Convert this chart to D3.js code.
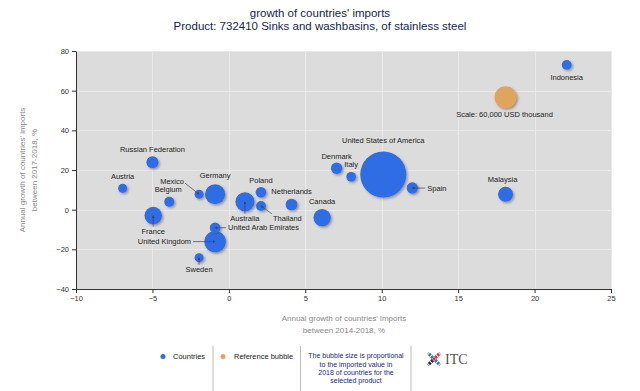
<!DOCTYPE html>
<html><head><meta charset="utf-8">
<script src="https://cdn.jsdelivr.net/npm/d3@7"></script>
<style>
html,body{margin:0;padding:0;background:#fff;}
svg{display:block;font-family:"Liberation Sans",Arial,sans-serif;}
</style></head>
<body><svg id="c" width="640" height="391"></svg>
<script>
// ---------- data ----------
const countries = ["Indonesia","United States of America","Spain","Malaysia","Denmark","Italy","Canada","Netherlands","Poland","Thailand","Australia","Germany","Mexico","Belgium","Austria","Russian Federation","France","United Arab Emirates","United Kingdom","Sweden"];
const growth2014_2018 = [22.1, 10.1, 12.0, 18.1, 7.05, 8.0, 6.1, 4.1, 2.1, 2.1, 1.05, -0.9, -1.95, -3.9, -6.95, -5.0, -4.95, -0.9, -0.9, -1.95];
const growth2017_2018 = [73, 17.7, 10.9, 7.8, 20.9, 16.6, -4.0, 2.6, 8.8, 1.9, 4.0, 7.8, 7.8, 4.0, 10.8, 23.9, -3.0, -9.1, -16.1, -24.2];
const imports2018 = [12000, 262000, 16000, 28000, 16000, 11500, 37000, 17000, 14000, 12000, 45000, 50000, 10000, 12400, 10000, 18000, 38000, 14000, 57000, 10000];
const referenceBubble = {label: "Scale: 60,000 USD thousand", x: 18.1, y: 56.7, value: 60000};
const xTicks = [-10, -5, 0, 5, 10, 15, 20, 25];
const yTicks = [-40, -20, 0, 20, 40, 60, 80];
const titleLines = ["growth of countries' imports", "Product: 732410 Sinks and washbasins, of stainless steel"];
const xTitle = ["Annual growth of countries' imports", "between 2014-2018, %"];
const yTitle = ["Annual growth of countries' imports", "between 2017-2018, %"];
const legendItems = ["Countries", "Reference bubble"];
const legendNote = ["The bubble size is proportional", "to the imported value in", "2018 of countries for the", "selected product"];

// label layout (pixel offsets from bubble centre; leader start offsets)
const labelLayout = {
  "Indonesia": {dx:0, dy:12, a:"middle"},
  "United States of America": {dx:0, dy:-34, a:"middle"},
  "Spain": {dx:15, dy:0, a:"start", l:[13,0]},
  "Malaysia": {dx:-3, dy:-15, a:"middle"},
  "Denmark": {dx:0, dy:-12, a:"middle"},
  "Italy": {dx:0, dy:-12, a:"middle"},
  "Canada": {dx:0, dy:-16, a:"middle"},
  "Netherlands": {dx:0, dy:-13, a:"middle"},
  "Poland": {dx:0, dy:-12, a:"middle"},
  "Thailand": {dx:12, dy:12, a:"start", l:[11,8]},
  "Australia": {dx:0, dy:17, a:"middle", l:[0,12]},
  "Germany": {dx:0, dy:-19, a:"middle"},
  "Mexico": {dx:-27, dy:-13, a:"middle", l:[-14,-11]},
  "Belgium": {dx:-1, dy:-12, a:"middle"},
  "Austria": {dx:0, dy:-12, a:"middle"},
  "Russian Federation": {dx:0, dy:-13, a:"middle"},
  "France": {dx:0, dy:16, a:"middle", l:[0,11]},
  "United Arab Emirates": {dx:13, dy:0, a:"start", l:[11,0]},
  "United Kingdom": {dx:-24, dy:0, a:"end", l:[-22,0]},
  "Sweden": {dx:0, dy:12, a:"middle", l:[0,7]}
};

const svg = d3.select("#c");
const defs = svg.append("defs");
const f = defs.append("filter").attr("id","sh").attr("x","-50%").attr("y","-50%").attr("width","200%").attr("height","200%");
f.append("feDropShadow").attr("dx",1.5).attr("dy",1.5).attr("stdDeviation",0.9).attr("flood-color","#555").attr("flood-opacity",0.55);
defs.append("marker").attr("id","arr").attr("viewBox","0 0 6 6").attr("refX",5).attr("refY",3)
  .attr("markerWidth",4).attr("markerHeight",4).attr("orient","auto")
  .append("path").attr("d","M0,0L6,3L0,6Z").attr("fill","#444");

const x = d3.scaleLinear().domain([-10,25]).range([76,611]);
const y = d3.scaleLinear().domain([-40,80]).range([289,51]);
const r = d3.scaleSqrt().domain([0,60000]).range([0,11]);

// title
svg.append("g").selectAll("text").data(titleLines).join("text")
  .attr("x",320).attr("y",(d,i)=>17+i*13).attr("text-anchor","middle")
  .attr("font-size","11.5px").attr("fill","#16244a").text(d=>d);

// plot background
svg.append("rect").attr("x",x(-10)).attr("y",y(80)).attr("width",x(25)-x(-10)).attr("height",y(-40)-y(80)).attr("fill","#dcdcdc");
// grid
const grid = svg.append("g").attr("stroke","#e9e9e9").attr("stroke-width",1);
grid.selectAll(".gx").data(xTicks.slice(1)).join("line").attr("x1",d=>Math.round(x(d))+0.5).attr("x2",d=>Math.round(x(d))+0.5).attr("y1",y(80)).attr("y2",y(-40));
grid.selectAll(".gy").data(yTicks.slice(1)).join("line").attr("y1",d=>Math.round(y(d))+0.5).attr("y2",d=>Math.round(y(d))+0.5).attr("x1",x(-10)).attr("x2",x(25));

// axes
const gy = svg.append("g").attr("transform",`translate(${x(-10)},0)`).call(d3.axisLeft(y).tickValues(yTicks).tickSize(4).tickSizeOuter(0).tickPadding(3));
const gx = svg.append("g").attr("transform",`translate(0,${y(-40)})`).call(d3.axisBottom(x).tickValues(xTicks).tickSize(4).tickSizeOuter(0).tickPadding(3));
[gx,gy].forEach(g=>{
  g.selectAll("path,line").attr("stroke","#333");
  g.selectAll("text").attr("font-size","7.5px").attr("fill","#333").attr("font-family","Liberation Sans, Arial, sans-serif");
});

// axis titles
svg.append("g").selectAll("text").data(xTitle).join("text")
  .attr("x",344).attr("y",(d,i)=>321+i*12).attr("text-anchor","middle")
  .attr("font-size","8px").attr("fill","#8a8a8a").text(d=>d);
svg.append("g").selectAll("text").data(yTitle).join("text")
  .attr("transform",(d,i)=>`translate(${25+i*12},170) rotate(-90)`).attr("text-anchor","middle")
  .attr("font-size","8px").attr("fill","#8a8a8a").text(d=>d);

// data
const data = countries.map((c,i)=>({name:c, gx:growth2014_2018[i], gy:growth2017_2018[i], v:imports2018[i]}));

// bubbles (largest first)
const bg = svg.append("g");
bg.selectAll("circle.c").data(data.slice().sort((a,b)=>b.v-a.v)).join("circle")
  .attr("cx",d=>x(d.gx)).attr("cy",d=>y(d.gy)).attr("r",d=>r(d.v))
  .attr("fill","#2d6de4").attr("filter","url(#sh)");
bg.append("circle").attr("cx",x(referenceBubble.x)).attr("cy",y(referenceBubble.y)).attr("r",r(referenceBubble.value))
  .attr("fill","#e0a55c").attr("filter","url(#sh)");

// leaders
data.forEach(d=>{
  const L = labelLayout[d.name];
  if(L && L.l){
    const cx=x(d.gx), cy=y(d.gy);
    svg.append("line").attr("x1",cx+L.l[0]).attr("y1",cy+L.l[1]).attr("x2",cx).attr("y2",cy)
      .attr("stroke","#444").attr("stroke-width",0.7).attr("marker-end","url(#arr)");
  }
});

// labels
svg.append("g").selectAll("text").data(data).join("text")
  .attr("x",d=>x(d.gx)+labelLayout[d.name].dx).attr("y",d=>y(d.gy)+labelLayout[d.name].dy)
  .attr("dy","0.35em").attr("text-anchor",d=>labelLayout[d.name].a)
  .attr("font-size","7.5px").attr("fill","#222").text(d=>d.name);
svg.append("text").attr("x",x(referenceBubble.x)-1).attr("y",y(referenceBubble.y)+17).attr("dy","0.35em")
  .attr("text-anchor","middle").attr("font-size","7.5px").attr("fill","#222").text(referenceBubble.label);

// legend
const leg = svg.append("g");
leg.append("circle").attr("cx",163).attr("cy",356.5).attr("r",2.5).attr("fill","#2d6de4");
leg.append("text").attr("x",173).attr("y",356.5).attr("dy","0.35em").attr("font-size","7.5px").attr("fill","#222").text(legendItems[0]);
leg.append("circle").attr("cx",223).attr("cy",356.5).attr("r",2.5).attr("fill","#e0a55c");
leg.append("text").attr("x",234).attr("y",356.5).attr("dy","0.35em").attr("font-size","7.5px").attr("fill","#222").text(legendItems[1]);
[213,300.5,411].forEach(px=>leg.append("line").attr("x1",px).attr("x2",px).attr("y1",346).attr("y2",391).attr("stroke","#bbb").attr("stroke-width",1));
leg.selectAll("text.n").data(legendNote).join("text").attr("class","n")
  .attr("x",356).attr("y",(d,i)=>356+i*8.3).attr("dy","0.35em").attr("text-anchor","middle")
  .attr("font-size","7px").attr("fill","#1a2a70").text(d=>d);

// ITC logo
const logo = leg.append("g").attr("transform","translate(434,359)");
const seg = [[-6,-6,"#2a78d0"],[6,-6,"#d8344a"],[-6,6,"#1f2a40"],[6,6,"#2a78d0"]];
seg.forEach(s=>{
  logo.append("line").attr("x1",s[0]*0.2).attr("y1",s[1]*0.2).attr("x2",s[0]).attr("y2",s[1])
    .attr("stroke",s[2]).attr("stroke-width",3.2).attr("stroke-dasharray","2.2,1");
});
logo.append("rect").attr("x",-1.5).attr("y",-1.5).attr("width",3).attr("height",3).attr("fill","#d8344a");
leg.append("text").attr("x",445).attr("y",359).attr("dy","0.35em").attr("font-family","Liberation Serif, Times New Roman, serif")
  .attr("font-size","14px").attr("fill","#555").text("ITC");
</script></body></html>
